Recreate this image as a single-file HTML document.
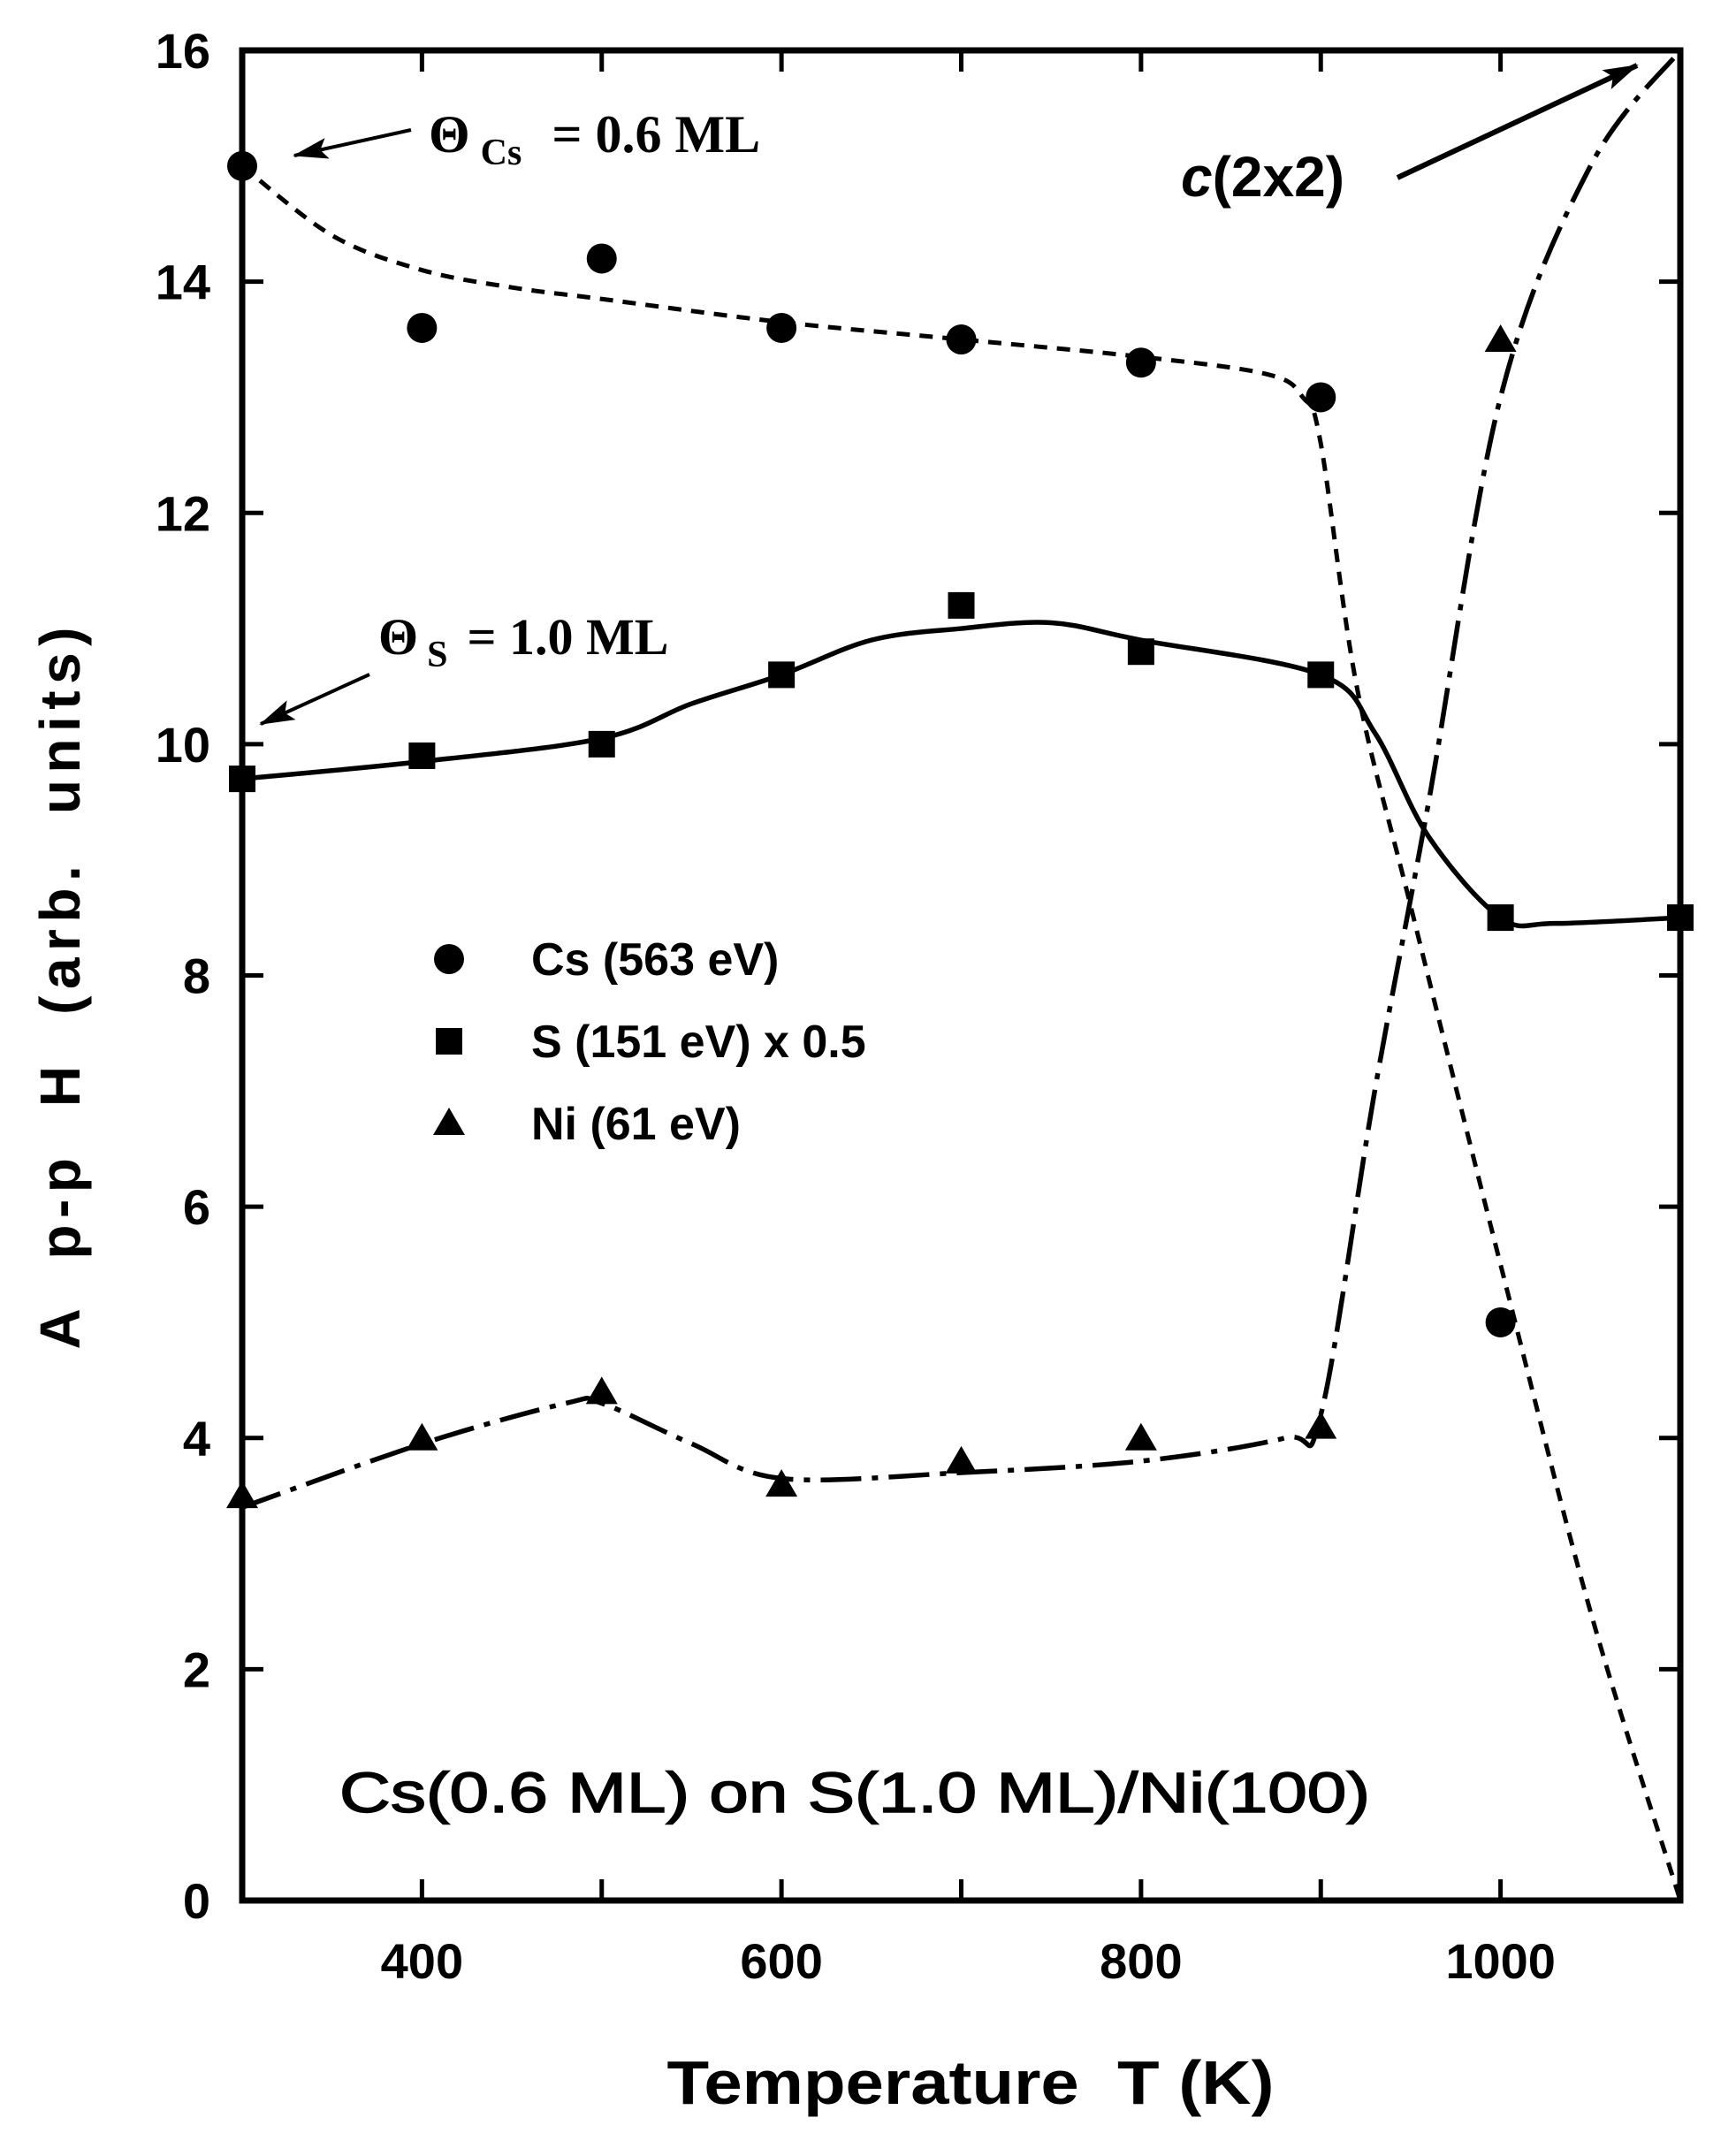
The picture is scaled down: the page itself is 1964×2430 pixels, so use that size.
<!DOCTYPE html>
<html><head><meta charset="utf-8"><style>
html,body{margin:0;padding:0;background:#fff;}
svg{display:block;}
text{white-space:pre;}
</style></head><body>
<svg id="chart" width="1964" height="2430" viewBox="0 0 1964 2430" xmlns="http://www.w3.org/2000/svg">
<defs><marker id="ah" markerWidth="40" markerHeight="24" refX="38" refY="12" orient="auto" markerUnits="userSpaceOnUse" viewBox="0 0 40 24"><path d="M0,0 L40,12 L0,24 L8,12 Z" fill="#000"/></marker></defs>
<g id="plot"></g>
<text transform="translate(90,1118) rotate(-90)" text-anchor="middle" textLength="817" lengthAdjust="spacing" font-family="Liberation Sans, sans-serif" font-weight="bold" font-size="64" xml:space="preserve">A  p-p  H  (arb.  units)</text>
<text x="1098" y="2380" text-anchor="middle" textLength="687" lengthAdjust="spacingAndGlyphs" font-family="Liberation Sans, sans-serif" font-weight="bold" font-size="70" xml:space="preserve">Temperature  T (K)</text>
<text x="384" y="2050" textLength="1166" lengthAdjust="spacingAndGlyphs" font-family="Liberation Sans, sans-serif" font-size="64" stroke="#000" stroke-width="1.5">Cs(0.6 ML) on S(1.0 ML)/Ni(100)</text>
<text x="485" y="172" font-family="Liberation Serif, serif" font-weight="bold" font-size="60">Θ<tspan font-size="42" dy="14" dx="12">Cs</tspan><tspan dy="-14" dx="34">= 0.6 ML</tspan></text>
<line x1="465" y1="147" x2="333" y2="176" stroke="#000" stroke-width="4" marker-end="url(#ah)"/>
<text x="428" y="740" font-family="Liberation Serif, serif" font-weight="bold" font-size="58">Θ<tspan font-size="42" dy="14" dx="10">S</tspan><tspan dy="-14" dx="22">= 1.0 ML</tspan></text>
<line x1="418" y1="763" x2="295" y2="819" stroke="#000" stroke-width="4" marker-end="url(#ah)"/>
<text x="1336" y="222" font-family="Liberation Sans, sans-serif" font-weight="bold" font-size="64"><tspan font-style="italic">c</tspan>(2x2)</text>
<line x1="1581" y1="201" x2="1852" y2="74" stroke="#000" stroke-width="6" marker-end="url(#ah)"/>
<g font-family="Liberation Sans, sans-serif" font-weight="bold" font-size="52">
<circle cx="508" cy="1085" r="17"/>
<text x="601" y="1103">Cs (563 eV)</text>
<rect x="493" y="1163" width="30" height="30"/>
<text x="601" y="1196">S (151 eV) x 0.5</text>
<path d="M508,1253 L526,1284 L490,1284 Z"/>
<text x="601" y="1289">Ni (61 eV)</text>
</g>
</svg>
<script>
const xTicks=[400,500,600,700,800,900,1000];
const xTickLabels=["400","","600","","800","","1000"];
const yTicks=[0,2,4,6,8,10,12,14,16];
const temps=[300,400,500,600,700,800,900,1000];
const csValues=[15.0,13.6,14.2,13.6,13.5,13.3,13.0,5.0];
const sTemps=[300,400,500,600,700,800,900,1000,1100];
const sValues=[9.7,9.9,10.0,10.6,11.2,10.8,10.6,8.5,8.5];
const niValues=[3.5,4.0,4.4,3.6,3.8,4.0,4.1,13.5];
const csFitT=[300,350,400,450,500,600,700,800,870,890,900,920,950,1000,1050,1100];
const csFitV=[15.0,14.4,14.1,13.95,13.85,13.65,13.5,13.35,13.2,13.0,12.6,10.5,8.6,5.5,2.5,0];
const sFitT=[300,400,500,550,600,650,700,750,800,900,930,960,1000,1030,1100];
const sFitV=[9.7,9.85,10.05,10.35,10.6,10.9,11.0,11.05,10.9,10.6,10.1,9.2,8.5,8.45,8.5];
const niFitT=[300,400,480,500,550,600,700,800,880,900,930,960,1000,1050,1100];
const niFitV=[3.4,3.95,4.3,4.3,3.95,3.65,3.7,3.8,4.0,4.2,7.0,9.5,13.0,15.0,16.0];

const X0=274,X1=1901,Y0=2150,Y1=57;
function xs(t){return X0+(t-300)/(1100-300)*(X1-X0);}
function ys(v){return Y0-(v/16)*(Y0-Y1);}
const NS="http://www.w3.org/2000/svg";
const g=document.getElementById('plot');
function mk(tag,attrs){const e=document.createElementNS(NS,tag);for(const k in attrs)e.setAttribute(k,attrs[k]);g.appendChild(e);return e;}
function smooth(T,V){const p=T.map((t,i)=>[xs(t),ys(V[i])]);let d="M"+p[0][0]+","+p[0][1];
for(let i=0;i<p.length-1;i++){const p0=p[Math.max(0,i-1)],p1=p[i],p2=p[i+1],p3=p[Math.min(p.length-1,i+2)];
d+=" C"+(p1[0]+(p2[0]-p0[0])/6)+","+(p1[1]+(p2[1]-p0[1])/6)+" "+(p2[0]-(p3[0]-p1[0])/6)+","+(p2[1]-(p3[1]-p1[1])/6)+" "+p2[0]+","+p2[1];}return d;}

let e;
e=mk('path',{d:smooth(csFitT,csFitV),fill:'none',stroke:'#000','stroke-width':5,'stroke-dasharray':'15,11'});


e=mk('path',{d:smooth(sFitT,sFitV),fill:'none',stroke:'#000','stroke-width':5.5});


e=mk('path',{d:smooth(niFitT,niFitV),fill:'none',stroke:'#000','stroke-width':5.5,'stroke-dasharray':'46,12,7,12'});



e=mk('rect',{x:X0,y:Y1,width:X1-X0,height:Y0-Y1,fill:'none',stroke:'#000','stroke-width':7});


yTicks.forEach(v=>{
 const y=ys(v);
 e=mk('line',{x1:X0,x2:X0+24,y1:y,y2:y,stroke:'#000','stroke-width':5});
 
 
 e=mk('line',{x1:X1-24,x2:X1,y1:y,y2:y,stroke:'#000','stroke-width':5});
 
 
 e=mk('text',{x:238,y:y+20,'text-anchor':'end','font-family':'Liberation Sans, sans-serif','font-weight':'bold','font-size':56});
 e.textContent=String(v);
 
 
});
xTicks.forEach((t,i)=>{
 const x=xs(t);
 e=mk('line',{x1:x,x2:x,y1:Y0,y2:Y0-24,stroke:'#000','stroke-width':5});
 
 
 e=mk('line',{x1:x,x2:x,y1:Y1,y2:Y1+24,stroke:'#000','stroke-width':5});
 
 
 if(xTickLabels[i]){
 e=mk('text',{x:x,y:2238,'text-anchor':'middle','font-family':'Liberation Sans, sans-serif','font-weight':'bold','font-size':56});
 e.textContent=xTickLabels[i];
 
 }
});

temps.forEach((t,i)=>{
 e=mk('circle',{cx:xs(t),cy:ys(csValues[i]),r:17,fill:'#000'});
 
 
 const x=xs(t),y=ys(niValues[i]);
 e=mk('path',{d:`M${x},${y-17} L${x+18},${y+14} L${x-18},${y+14} Z`,fill:'#000'});
 
 
});
sTemps.forEach((t,i)=>{
 e=mk('rect',{x:xs(t)-15,y:ys(sValues[i])-15,width:30,height:30,fill:'#000'});
 
 
});
</script>
</body></html>
